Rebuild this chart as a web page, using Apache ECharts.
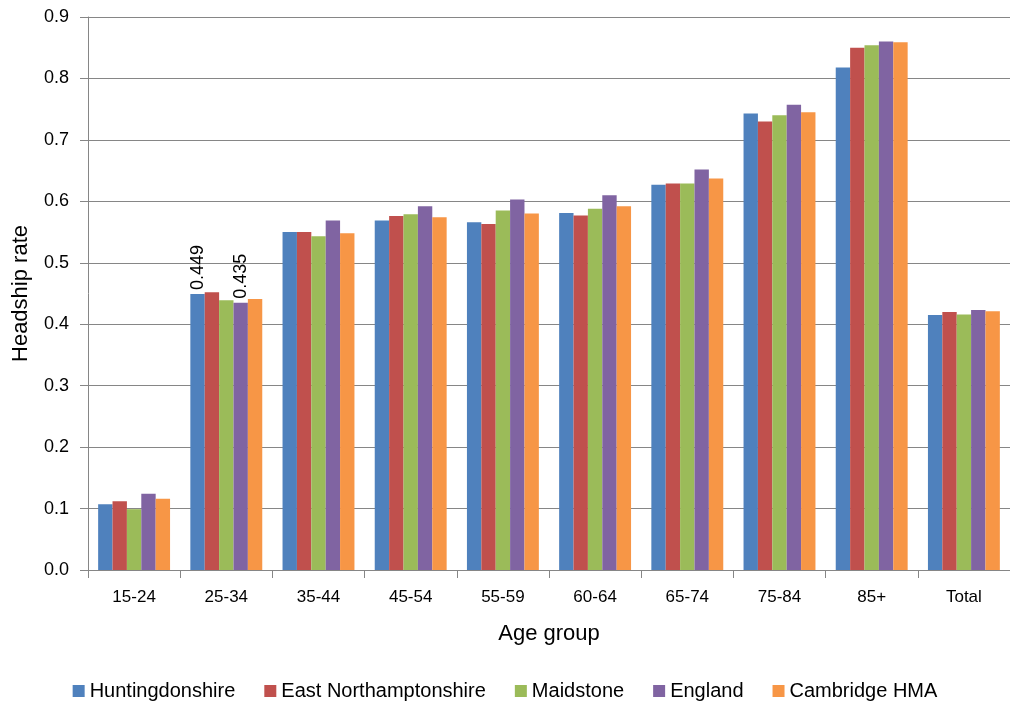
<!DOCTYPE html>
<html>
<head>
<meta charset="utf-8">
<script src="https://cdn.jsdelivr.net/npm/echarts@6/dist/echarts.min.js"></script>
<style>
  html, body { margin: 0; padding: 0; background: #ffffff; }
  #chart { width: 1010px; height: 707px; }
</style>
</head>
<body>
<div id="chart"></div>
<script>
// Headship rates by age group
const ageGroups = ['15-24', '25-34', '35-44', '45-54', '55-59', '60-64', '65-74', '75-84', '85+', 'Total'];
const huntingdonshire     = [0.107, 0.449, 0.550, 0.569, 0.566, 0.581, 0.627, 0.743, 0.818, 0.415];
const eastNorthamptonshire = [0.112, 0.452, 0.550, 0.576, 0.563, 0.577, 0.629, 0.730, 0.850, 0.420];
const maidstone           = [0.099, 0.439, 0.543, 0.579, 0.585, 0.588, 0.629, 0.740, 0.854, 0.416];
const england             = [0.124, 0.435, 0.569, 0.592, 0.603, 0.610, 0.652, 0.757, 0.860, 0.423];
const cambridgeHMA        = [0.116, 0.441, 0.548, 0.574, 0.580, 0.592, 0.637, 0.745, 0.859, 0.421];

// Categories whose bar carries a printed value
const labelledHuntingdonshire = ['25-34'];
const labelledEngland = ['25-34'];

const seriesDefs = [
  { name: 'Huntingdonshire', data: huntingdonshire, color: '#4F81BD', labelled: labelledHuntingdonshire },
  { name: 'East Northamptonshire', data: eastNorthamptonshire, color: '#C0504D', labelled: [] },
  { name: 'Maidstone', data: maidstone, color: '#9BBB59', labelled: [] },
  { name: 'England', data: england, color: '#8064A2', labelled: labelledEngland },
  { name: 'Cambridge HMA', data: cambridgeHMA, color: '#F79646', labelled: [] }
];

const FONT = 'Liberation Sans';
const chart = echarts.init(document.getElementById('chart'), null, { renderer: 'canvas' });

const series = seriesDefs.map(s => ({
  name: s.name,
  type: 'bar',
  barGap: '0%',
  barCategoryGap: '22%',
  itemStyle: { color: s.color },
  data: s.data.map((v, i) => {
    const item = { value: v };
    if (s.labelled.indexOf(ageGroups[i]) >= 0) {
      item.label = {
        show: true,
        position: 'top',
        rotate: 90,
        align: 'left',
        verticalAlign: 'middle',
        distance: 4,
        formatter: (p) => p.value.toFixed(3),
        fontFamily: FONT,
        fontSize: 18,
        color: '#000000'
      };
    }
    return item;
  })
}));

chart.setOption({
  animation: false,
  backgroundColor: '#ffffff',
  textStyle: { fontFamily: FONT },
  grid: { left: 88, right: 0, top: 17, bottom: 137, containLabel: false, outerBoundsMode: 'none' },
  legend: {
    bottom: 1,
    left: 'center',
    itemWidth: 12,
    itemHeight: 12,
    itemGap: 29,
    icon: 'rect',
    textStyle: { fontFamily: FONT, fontSize: 20, color: '#000000' },
    data: seriesDefs.map(s => s.name)
  },
  xAxis: {
    type: 'category',
    data: ageGroups,
    name: 'Age group',
    nameLocation: 'middle',
    nameGap: 53,
    nameTextStyle: { fontFamily: FONT, fontSize: 22, color: '#000000' },
    axisLine: { lineStyle: { color: '#868686', width: 1 } },
    axisTick: { show: true, alignWithLabel: false, length: 8, lineStyle: { color: '#868686' } },
    axisLabel: { fontFamily: FONT, fontSize: 17, color: '#000000', margin: 19 },
    splitLine: { show: false }
  },
  yAxis: {
    type: 'value',
    min: 0,
    max: 0.9,
    interval: 0.1,
    name: 'Headship rate',
    nameLocation: 'middle',
    nameGap: 56,
    nameRotate: 90,
    nameTextStyle: { fontFamily: FONT, fontSize: 22, color: '#000000' },
    axisLine: { show: true, lineStyle: { color: '#868686', width: 1 } },
    axisTick: { show: true, length: 8, lineStyle: { color: '#868686' } },
    axisLabel: {
      fontFamily: FONT, fontSize: 18, color: '#000000', margin: 19,
      formatter: (v) => v.toFixed(1)
    },
    splitLine: { show: true, lineStyle: { color: '#868686', width: 1 } }
  },
  series: series
});
</script>
</body>
</html>
